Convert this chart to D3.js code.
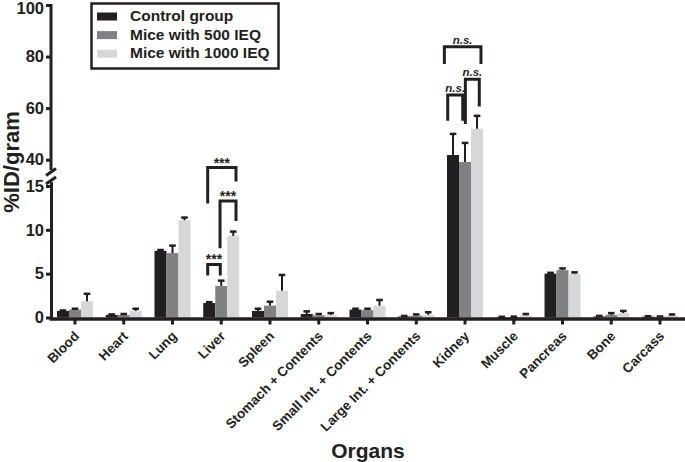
<!DOCTYPE html>
<html>
<head>
<meta charset="utf-8">
<script src="https://cdn.jsdelivr.net/npm/d3@7"></script>
<style>
  body { margin: 0; background: #fff; }
  svg { display: block; }
  text { font-family: "Liberation Sans", Arial, sans-serif; font-weight: bold; fill: #231f20; }
</style>
</head>
<body>
<svg id="chart" width="685" height="462"></svg>
<script>
// data (%ID/gram)
const categories = ['Blood', 'Heart', 'Lung', 'Liver', 'Spleen', 'Stomach + Contents',
  'Small Int. + Contents', 'Large Int. + Contents', 'Kidney', 'Muscle', 'Pancreas', 'Bone', 'Carcass'];
const seriesNames = ['Control group', 'Mice with 500 IEQ', 'Mice with 1000 IEQ'];
const control     = [0.75, 0.3, 7.6, 1.65, 0.75, 0.4, 0.9, 0.12, 41.8, 0.05, 5.0, 0.12, 0.1];
const controlTop  = [0.8, 0.35, 7.7, 1.75, 1.0, 0.7, 1.0, 0.18, 50, 0.08, 5.1, 0.18, 0.15];
const ieq500      = [0.9, 0.3, 7.35, 3.6, 1.35, 0.25, 0.85, 0.2, 39.1, 0.05, 5.4, 0.3, 0.08];
const ieq500Top   = [1.0, 0.4, 8.2, 4.2, 1.8, 0.4, 1.0, 0.35, 46.5, 0.1, 5.6, 0.5, 0.12];
const ieq1000     = [1.85, 0.75, 11.1, 9.3, 3.05, 0.3, 1.35, 0.3, 52, 0.25, 5.0, 0.5, 0.2];
const ieq1000Top  = [2.7, 1.0, 11.4, 9.8, 4.85, 0.5, 2.0, 0.6, 57, 0.4, 5.15, 0.75, 0.35];
const lowTicks  = [0, 5, 10, 15];
const highTicks = [40, 60, 80, 100];

// significance brackets: group, bars a/b, where on the bar the leg sits, levels
const brackets = [
  { cat: 'Liver',  seg: 'low',  a: 0, fa: 0.37, b: 1, fb: 0.42, top: 6.05, endA: 4.8,  endB: 4.8,  label: '***' },
  { cat: 'Liver',  seg: 'low',  a: 1, fa: 0.40, b: 2, fb: 0.73, top: 13.3, endA: 7.9,  endB: 11.0, label: '***' },
  { cat: 'Liver',  seg: 'low',  a: 0, fa: 0.37, b: 2, fb: 0.73, top: 17.1, endA: 13.0, endB: 15.5, label: '***' },
  { cat: 'Kidney', seg: 'high', a: 0, fa: -0.22, b: 2, fb: 0.83, top: 83.8, endA: 77.1, endB: 77.1, label: 'n.s.' },
  { cat: 'Kidney', seg: 'high', a: 0, fa: 0.06, b: 1, fb: 0.31, top: 65.1, endA: 55.1, endB: 55.1, label: 'n.s.' },
  { cat: 'Kidney', seg: 'high', a: 1, fa: 0.53, b: 2, fb: 0.69, top: 71.2, endA: 53.8, endB: 60.6, label: 'n.s.' }
];

const colors = ['#231f20', '#808184', '#d6d7d8'];
const ink = '#231f20';

const svg = d3.select('#chart');

// broken y axis: two linear pieces
const yLow  = d3.scaleLinear().domain([0, 15.5]).range([317.5, 181.6]);
const yHigh = d3.scaleLinear().domain([36, 100]).range([170, 5]);
const y = v => v > 15.5 ? yHigh(v) : yLow(v);

const x  = d3.scaleBand().domain(categories).range([50.6, 684.4]);
const xs = d3.scaleBand().domain(d3.range(3)).range([x.bandwidth() / 2 - 18, x.bandwidth() / 2 + 18]);

const values = [control, ieq500, ieq1000];
const tops   = [controlTop, ieq500Top, ieq1000Top];
const rows = [];
categories.forEach((c, i) => {
  values.forEach((vals, s) => rows.push({ cat: c, s, v: vals[i], top: tops[s][i] }));
});

// bars
svg.append('g')
  .selectAll('rect')
  .data(rows)
  .enter().append('rect')
    .attr('x', d => x(d.cat) + xs(d.s))
    .attr('width', xs.bandwidth())
    .attr('y', d => y(d.v))
    .attr('height', d => yLow(0) - y(d.v))
    .attr('fill', d => colors[d.s]);

// error bars (upper only)
const err = svg.append('g').attr('stroke', ink).attr('stroke-width', 2);
err.selectAll('line.v')
  .data(rows.filter(d => d.top > d.v))
  .enter().append('line')
    .attr('class', 'v')
    .attr('x1', d => x(d.cat) + xs(d.s) + xs.bandwidth() / 2)
    .attr('x2', d => x(d.cat) + xs(d.s) + xs.bandwidth() / 2)
    .attr('y1', d => y(d.v))
    .attr('y2', d => y(d.top));
err.selectAll('line.cap')
  .data(rows.filter(d => d.top > d.v))
  .enter().append('line')
    .attr('class', 'cap')
    .attr('stroke-width', 2.5)
    .attr('x1', d => x(d.cat) + xs(d.s) + xs.bandwidth() / 2 - 3.3)
    .attr('x2', d => x(d.cat) + xs(d.s) + xs.bandwidth() / 2 + 3.3)
    .attr('y1', d => y(d.top))
    .attr('y2', d => y(d.top));

// y axes
function styleAxis(g) {
  g.selectAll('.domain').attr('stroke', ink).attr('stroke-width', 3);
  g.selectAll('.tick line').attr('stroke', ink).attr('stroke-width', 3);
  g.selectAll('.tick text')
    .attr('font-size', '16.5px')
    .attr('font-family', '"Liberation Sans", Arial, sans-serif')
    .attr('font-weight', 'bold')
    .attr('fill', ink);
}
svg.append('g')
  .attr('transform', 'translate(51,0)')
  .call(d3.axisLeft(yLow).tickValues(lowTicks).tickSize(5).tickSizeOuter(0).tickPadding(2))
  .call(styleAxis);
const upper = svg.append('g')
  .attr('transform', 'translate(51,0)')
  .call(d3.axisLeft(yHigh).tickValues(highTicks).tickSize(5).tickSizeOuter(0).tickPadding(2))
  .call(styleAxis);
upper.select('.domain').attr('d', `M0,${yHigh(36)}V${yHigh(100) - 1}`);
upper.selectAll('.tick text').filter(d => d === 100).attr('dy', '0.5em');

// break marks
svg.append('g').attr('stroke', ink).attr('stroke-width', 3)
  .selectAll('line')
  .data([yHigh(36) + 2, yLow(15.5) - 1])
  .enter().append('line')
    .attr('x1', 46).attr('x2', 56)
    .attr('y1', d => d + 3.5).attr('y2', d => d - 3.5);

// x axis
const xAxis = svg.append('g')
  .attr('transform', 'translate(0,319)')
  .call(d3.axisBottom(x).tickSize(5.5).tickSizeOuter(0));
xAxis.select('.domain').attr('d', 'M49.5,0H685').attr('stroke', ink).attr('stroke-width', 3.5);
xAxis.selectAll('.tick line').attr('stroke', ink).attr('stroke-width', 3);
xAxis.selectAll('.tick text')
  .attr('x', 0).attr('y', 0).attr('dy', 0)
  .attr('text-anchor', 'end')
  .attr('transform', 'translate(5,18) rotate(-45)')
  .attr('font-size', '13.5px')
  .attr('font-family', '"Liberation Sans", Arial, sans-serif')
  .attr('font-weight', 'bold')
  .attr('fill', ink);

// brackets
const bx = (cat, s, f) => x(cat) + xs(s) + f * xs.bandwidth();
const bg = svg.append('g');
brackets.forEach(b => {
  const sc = b.seg === 'low' ? yLow : yHigh;
  const xa = bx(b.cat, b.a, b.fa), xb = bx(b.cat, b.b, b.fb);
  bg.append('path')
    .attr('d', `M${xa},${sc(b.endA)}V${sc(b.top)}H${xb}V${sc(b.endB)}`)
    .attr('fill', 'none')
    .attr('stroke', ink)
    .attr('stroke-width', 3);
  const ns = b.label === 'n.s.';
  bg.append('text')
    .attr('x', (xa + xb) / 2)
    .attr('y', sc(b.top) - (ns ? 3 : 0))
    .attr('text-anchor', 'middle')
    .attr('font-size', ns ? '11.5px' : '14px')
    .attr('font-weight', 'normal')
    .attr('font-style', ns ? 'italic' : 'normal')
    .attr('fill', '#333')
    .text(b.label);
});

// legend
const legend = svg.append('g');
legend.append('rect')
  .attr('x', 91.5).attr('y', 3.5).attr('width', 187).attr('height', 65)
  .attr('fill', '#fff').attr('stroke', ink).attr('stroke-width', 2.5);
const li = legend.selectAll('g.item')
  .data(seriesNames)
  .enter().append('g')
    .attr('class', 'item')
    .attr('transform', (d, i) => `translate(97,${12.5 + i * 18.6})`);
li.append('rect').attr('width', 20).attr('height', 8).attr('fill', (d, i) => colors[i]);
li.append('text').attr('x', 33).attr('y', 8.5).attr('font-size', '15.5px').text(d => d);

// axis titles
svg.append('text')
  .attr('transform', 'translate(19,162) rotate(-90)')
  .attr('text-anchor', 'middle')
  .attr('font-size', '22px')
  .text('%ID/gram');
svg.append('text')
  .attr('x', 368).attr('y', 458)
  .attr('text-anchor', 'middle')
  .attr('font-size', '21px')
  .text('Organs');
</script>
</body>
</html>
